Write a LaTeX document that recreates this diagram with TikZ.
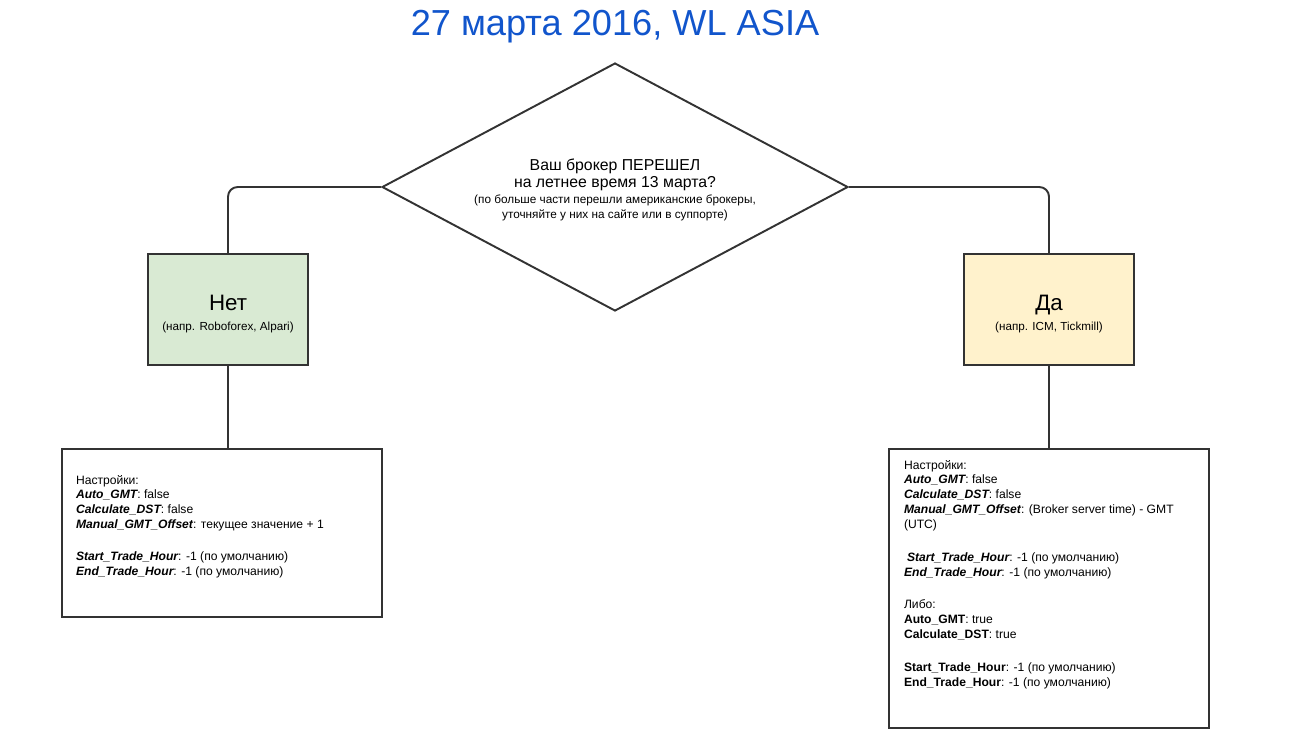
\documentclass[tikz,border=0pt]{standalone}
\usepackage{fontspec}
\setmainfont{Liberation Sans}
\usepackage{xcolor}
\usetikzlibrary{shapes.geometric, calc}

\definecolor{linegray}{HTML}{333333}
\definecolor{titleblue}{HTML}{1155CC}
\definecolor{nofill}{HTML}{D9EAD3}
\definecolor{yesfill}{HTML}{FFF2CC}
\newcommand{\kw}[1]{{\bfseries\itshape #1}}

\begin{document}
\begin{tikzpicture}[x=0.02cm, y=-0.02cm, line width=1.1pt,
        box/.style={draw=linegray, rectangle, inner sep=0pt, align=center},
        link/.style={draw=linegray, rounded corners=5.5pt},
        settext/.style={anchor=north west, inner sep=0pt, align=left,
            font=\fontsize{6.9}{8.5}\selectfont}]
    \useasboundingbox (0,0) rectangle (1312,745);

    \node[titleblue, font=\fontsize{20.6}{24}\selectfont] (title) at (615,27) {27 марта 2016, WL ASIA};

    % question
    \node[box, diamond, aspect=1.879, minimum width=9.32cm, minimum height=4.96cm,
        font=\fontsize{9}{10}\selectfont] (q) at (615,187)
        {\rule{0pt}{9.5pt}Ваш брокер ПЕРЕШЕЛ\\на летнее время 13 марта?\\[-0.8pt]
         {\fontsize{6.7}{8.2}\selectfont (по больше части перешли американские брокеры,}\\[-1.8pt]
         {\fontsize{6.7}{8.2}\selectfont уточняйте у них на сайте или в суппорте)}};

    % answers
    \node[box, fill=nofill, minimum width=3.2cm, minimum height=2.22cm] (no) at (228,309.5)
        {\rule{0pt}{14pt}{\fontsize{12.7}{14}\selectfont Нет}\\[-1pt]{\fontsize{6.65}{8}\selectfont (напр. Roboforex, Alpari)}};
    \node[box, fill=yesfill, minimum width=3.4cm, minimum height=2.22cm] (yes) at (1049,309.5)
        {\rule{0pt}{14pt}{\fontsize{12.7}{14}\selectfont Да}\\[-1pt]{\fontsize{6.65}{8}\selectfont (напр. ICM, Tickmill)}};

    % settings
    \node[box, minimum width=6.4cm, minimum height=3.36cm] (lset) at (222,533) {};
    \node[box, minimum width=6.4cm, minimum height=5.58cm] (rset) at (1049,588.5) {};

    \node[settext] (ltext) at ($(lset.north west)+(14,26)$)
        {Настройки:\\
         \kw{Auto\_GMT}: false\\
         \kw{Calculate\_DST}: false\\
         \kw{Manual\_GMT\_Offset}: текущее значение + 1\\[9.6pt]
         \kw{Start\_Trade\_Hour}: -1 (по умолчанию)\\
         \kw{End\_Trade\_Hour}: -1 (по умолчанию)};
    \node[settext] (rtext) at ($(rset.north west)+(15,11)$)
        {Настройки:\\
         \kw{Auto\_GMT}: false\\
         \kw{Calculate\_DST}: false\\
         \kw{Manual\_GMT\_Offset}: (Broker server time) - GMT\\
         (UTC)\\[10pt]
         \hspace{0.25em}\kw{Start\_Trade\_Hour}: -1 (по умолчанию)\\
         \kw{End\_Trade\_Hour}: -1 (по умолчанию)\\[10pt]
         Либо:\\
         \textbf{Auto\_GMT}: true\\
         \textbf{Calculate\_DST}: true\\[10pt]
         \textbf{Start\_Trade\_Hour}: -1 (по умолчанию)\\
         \textbf{End\_Trade\_Hour}: -1 (по умолчанию)};

    \draw[link] (q.west) -| (no.north);
    \draw[link] (q.east) -| (yes.north);
    \draw[link] (no.south) -- (no.south |- lset.north);
    \draw[link] (yes.south) -- (rset.north);
\end{tikzpicture}
\end{document}
